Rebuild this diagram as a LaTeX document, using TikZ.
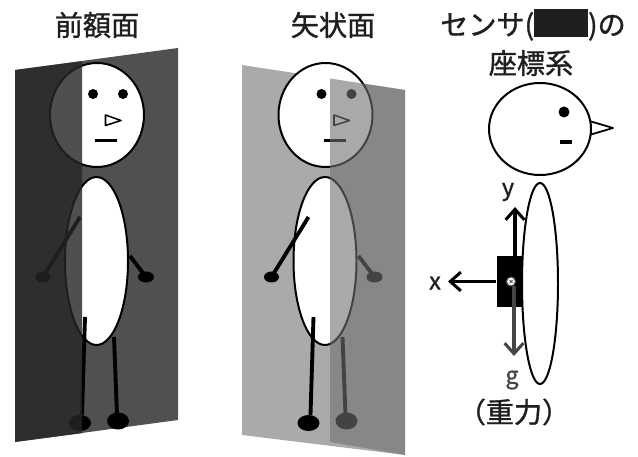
\documentclass[tikz,border=0pt]{standalone}
\usepackage{fontspec}
\setmainfont{Noto Sans CJK JP}
\newfontfamily\labelfont[FakeBold=1.2]{Noto Sans CJK JP}
\usetikzlibrary{arrows.meta}
\usetikzlibrary{positioning}

\definecolor{planeA}{gray}{0.314}
\definecolor{shadeA}{gray}{0.149}
\definecolor{planeB}{gray}{0.667}
\definecolor{shadeB}{gray}{0.443}
\definecolor{gravgray}{gray}{0.27}
\definecolor{inkgray}{gray}{0.12}

\tikzset{
  outline/.style={draw=black,line width=1.7pt,fill=white},
  limb/.style={line width=3.3pt},
  nose/.style={draw=black,line width=1.3pt,fill=white,line join=round},
  mouth/.style={line width=2.6pt},
  title/.style={font=\labelfont\fontsize{24}{28}\selectfont,text=inkgray,inner sep=0pt},
  axislabel/.style={font=\labelfont\fontsize{20}{24}\selectfont,text=inkgray,inner sep=0pt},
  axis/.style={line width=2.6pt,-{Straight Barb[length=9pt,width=16pt,line width=2.6pt]}},
  sensorbox/.style={rectangle,fill=black,minimum width=0.75cm,minimum height=1.53cm,inner sep=0pt},
  dotmark/.style={circle,draw=gravgray,fill=white,line width=0.8pt,minimum size=0.27cm,inner sep=0pt,
    path picture={\draw[line width=0.6pt] (path picture bounding box.center) +(-1.6,-1.6) -- +(1.6,1.6) +(-1.6,1.6) -- +(1.6,-1.6);}}
}

\newcommand{\stickperson}{%
  \draw[outline] (97,115) ellipse [x radius=47, y radius=52];
  \fill (93,94) circle [radius=5];
  \fill (123,94) circle [radius=5];
  \draw[nose] (105.5,115) -- (105.5,125.5) -- (121,120.5) -- cycle;
  \draw[mouth] (95,140.5) -- (117,140.5);
  \draw[outline] (96.5,261) ellipse [x radius=31.5, y radius=84];
  \draw[limb] (80,217) -- (43,277);
  \draw[limb] (130,256) -- (146,277);
  \fill (43,277) ellipse [x radius=7.5, y radius=5.5];
  \fill (146,277) ellipse [x radius=8, y radius=5.5];
  \draw[limb] (85,317) -- (82,415);
  \draw[limb] (114,337) -- (117,415);
  \fill (80,423) ellipse [x radius=11, y radius=8];
  \fill (118,421) ellipse [x radius=11, y radius=8.5];
}

\begin{document}
\begin{tikzpicture}[x=0.03cm,y=-0.03cm]
\useasboundingbox (0,0) rectangle (638,457);

% frontal plane, left half lies in front of the body
\fill[planeA] (15,70) -- (178,48) -- (178,420) -- (15,442) -- cycle;
\stickperson
\fill[shadeA,opacity=0.806] (15,70) -- (82,61.2) -- (82,433.2) -- (15,442) -- cycle;
\node[title] (frontal) at (97,25) {前額面};

% sagittal plane, right half lies in front of the body
\fill[planeB] (242,65) -- (405,90) -- (405,455) -- (242,435) -- cycle;
\begin{scope}[shift={(228.5,0)}]
\stickperson
\end{scope}
\fill[shadeB,opacity=0.6] (330,78.5) -- (405,90) -- (405,455) -- (330,441.9) -- cycle;
\node[title] (sagittal) at (333,25) {矢状面};

% side view with the sensor axes
\node[title] (sensortitle) at (533,25) {センサ(\rule[-0.07cm]{1.62cm}{0.84cm})の};
\node[title] (coordtitle) at (531,63) {座標系};

\draw[nose,line width=1.5pt] (586,120) -- (613,128) -- (586,136) -- cycle;
\draw[outline] (540,129) ellipse [x radius=51, y radius=46];
\fill (564,112) circle [radius=5.5];
\draw[mouth] (560,142) -- (572,142);
\draw[outline] (540,283.5) ellipse [x radius=18, y radius=100.5];

\node[sensorbox] (sensor) at (509,281.5) {};
\coordinate (ytip) at (515,207);
\coordinate (xtip) at (448,281.5);
\coordinate (gtip) at (514,356);
\draw[axis] (sensor.north -| ytip) -- (ytip);
\draw[axis] (sensor.west) -- (xtip);
\node[dotmark] (origin) at (511,281.5) {};
\draw[axis,gravgray] (origin.south -| gtip) -- (gtip);
\node[dotmark] at (origin) {};

\node[axislabel] (ylabel) at (508,192) {y};
\node[axislabel] (xlabel) at (435,283) {x};
\node[axislabel,text=gravgray] (glabel) at (512,380) {g};
\node[title] (gravity) at (514,412) {（重力）};

\end{tikzpicture}
\end{document}
